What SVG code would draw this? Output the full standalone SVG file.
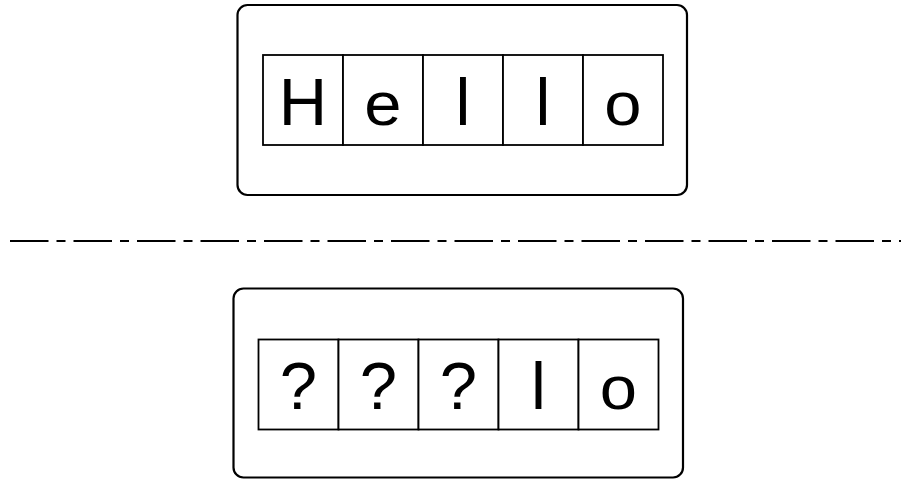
<svg xmlns="http://www.w3.org/2000/svg" width="901" height="479" viewBox="0 0 901 479">
<style>
.frame{fill:#fff;stroke:#000;stroke-width:2.2}
.cell{fill:#fff;stroke:#000;stroke-width:1.8}
.ch{font-family:"Liberation Sans",Arial,sans-serif;font-size:67px;fill:#000;text-anchor:middle}
.sep{stroke:#000;stroke-width:2;stroke-dasharray:38.5 8 9 8;fill:none}
</style>
<rect width="901" height="479" fill="#fff"/>
<g id="top">
<rect class="frame" x="237.5" y="5" width="449.5" height="190" rx="10"/>
<rect class="cell" x="263" y="55" width="80" height="90"/>
<rect class="cell" x="343" y="55" width="80" height="90"/>
<rect class="cell" x="423" y="55" width="80" height="90"/>
<rect class="cell" x="503" y="55" width="80" height="90"/>
<rect class="cell" x="583" y="55" width="80" height="90"/>
<text class="ch" x="303" y="125">H</text>
<text class="ch" transform="translate(383 125) scale(1 0.9)">e</text>
<text class="ch" x="463" y="125">l</text>
<text class="ch" x="543" y="125">l</text>
<text class="ch" transform="translate(623 125) scale(1 0.9)">o</text>
</g>
<g id="connectors">
<line class="sep" x1="10" y1="241" x2="901" y2="241"/>
</g>
<g id="bottom">
<rect class="frame" x="233.5" y="288.5" width="449.5" height="189" rx="10"/>
<rect class="cell" x="258.5" y="339.5" width="80" height="90"/>
<rect class="cell" x="338.5" y="339.5" width="80" height="90"/>
<rect class="cell" x="418.5" y="339.5" width="80" height="90"/>
<rect class="cell" x="498.5" y="339.5" width="80" height="90"/>
<rect class="cell" x="578.5" y="339.5" width="80" height="90"/>
<text class="ch" x="298.5" y="409">?</text>
<text class="ch" x="378.5" y="409">?</text>
<text class="ch" x="458.5" y="409">?</text>
<text class="ch" x="538.5" y="409">l</text>
<text class="ch" transform="translate(618.5 409) scale(1 0.9)">o</text>
</g>
</svg>
